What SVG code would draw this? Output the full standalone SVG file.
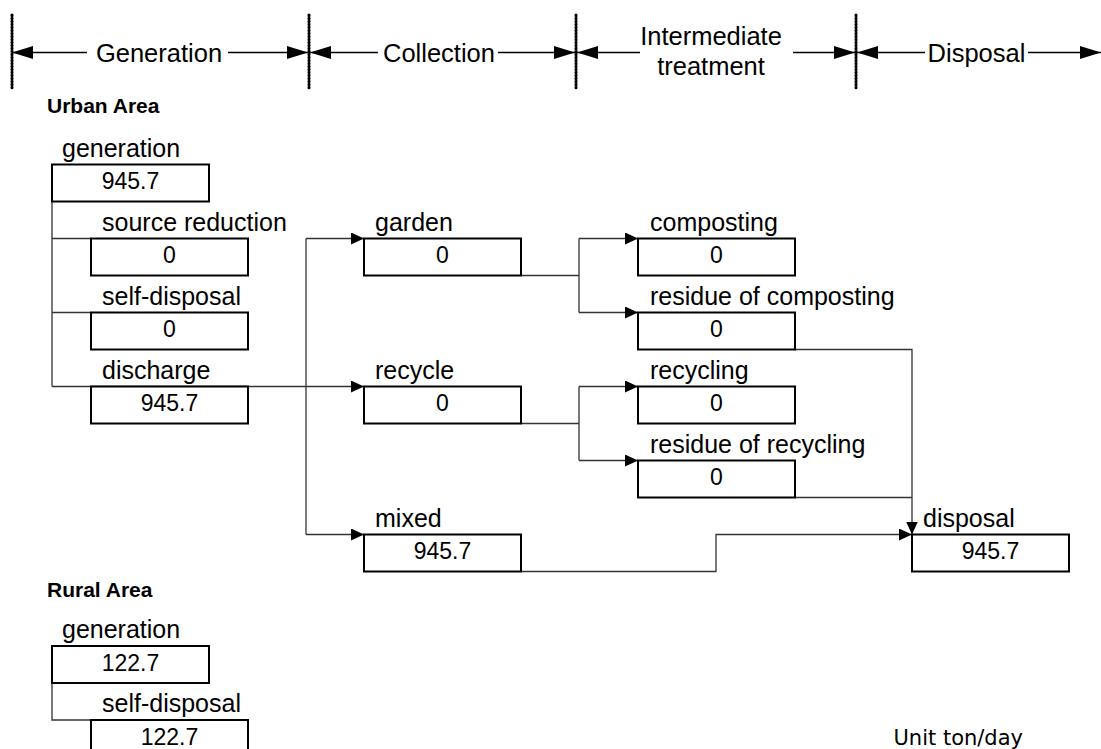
<svg xmlns="http://www.w3.org/2000/svg" width="1101" height="749" viewBox="0 0 1101 749">
<style>
.bg{fill:#fff}
.box{fill:#fff;stroke:#000;stroke-width:2}
.lbl{font-family:"Liberation Sans",Arial,sans-serif;font-size:25px;fill:#000}
.num{font-family:"Liberation Sans",Arial,sans-serif;font-size:23px;fill:#000;text-anchor:middle}
.hdr{font-family:"Liberation Sans",Arial,sans-serif;font-size:25.5px;fill:#000;text-anchor:middle}
.area{font-family:"Liberation Sans",Arial,sans-serif;font-size:21px;font-weight:bold;fill:#000}
.unit{font-family:"DejaVu Sans",Verdana,sans-serif;font-size:21px;fill:#000;text-anchor:end}
.con{fill:none;stroke:#333;stroke-width:1.3}
.arr{marker-end:url(#ah)}
.hl{fill:none;stroke:#000;stroke-width:1.3}
.div{stroke:#000;stroke-width:3;stroke-dasharray:0.8 2.2;stroke-linecap:round}
</style>
<defs>
<marker id="ah" markerUnits="userSpaceOnUse" markerWidth="14" markerHeight="13" refX="13" refY="6" orient="auto">
<path d="M0,0 L13,6 L0,12 z" fill="#000"/>
</marker>
<marker id="hh" markerUnits="userSpaceOnUse" markerWidth="22" markerHeight="14" refX="21" refY="6.5" orient="auto-start-reverse">
<path d="M0,0 L21,6.5 L0,13 z" fill="#000"/>
</marker>
</defs>
<rect class="bg" x="0" y="0" width="1101" height="749"/>

<g id="header">
<line class="div" x1="12" y1="15" x2="12" y2="89"/>
<line class="div" x1="309" y1="15" x2="309" y2="89"/>
<line class="div" x1="576" y1="15" x2="576" y2="89"/>
<line class="div" x1="856" y1="15" x2="856" y2="89"/>
<line class="hl" x1="12" y1="52.5" x2="87" y2="52.5" marker-start="url(#hh)"/>
<line class="hl" x1="228" y1="52.5" x2="308" y2="52.5" marker-end="url(#hh)"/>
<line class="hl" x1="310" y1="52.5" x2="378" y2="52.5" marker-start="url(#hh)"/>
<line class="hl" x1="498" y1="52.5" x2="575" y2="52.5" marker-end="url(#hh)"/>
<line class="hl" x1="577" y1="52.5" x2="640" y2="52.5" marker-start="url(#hh)"/>
<line class="hl" x1="793" y1="52.5" x2="855" y2="52.5" marker-end="url(#hh)"/>
<line class="hl" x1="857" y1="52.5" x2="925" y2="52.5" marker-start="url(#hh)"/>
<line class="hl" x1="1028" y1="52.5" x2="1101" y2="52.5" marker-end="url(#hh)"/>
<text class="hdr" x="159" y="61.5">Generation</text>
<text class="hdr" x="439" y="61.5">Collection</text>
<text class="hdr" x="711" y="45">Intermediate</text>
<text class="hdr" x="711" y="75">treatment</text>
<text class="hdr" x="976.5" y="61.5">Disposal</text>
</g>

<text class="area" x="47" y="113">Urban Area</text>
<text class="area" x="47" y="597">Rural Area</text>
<text class="unit" x="1023" y="745">Unit ton/day</text>

<g id="connectors">
<path class="con" d="M52,201.5 V386.5 M52,238.5 H91 M52,312.5 H91"/>
<path class="con arr" d="M52,386.5 H364"/>
<path class="con" d="M306,238.5 V534.5"/>
<path class="con arr" d="M306,238.5 H364"/>
<path class="con arr" d="M306,534.5 H364"/>
<path class="con" d="M521,275.5 H579 M579,238.5 V312.5"/>
<path class="con arr" d="M579,238.5 H638"/>
<path class="con arr" d="M579,312.5 H638"/>
<path class="con" d="M521,423.5 H579 M579,386.5 V460.5"/>
<path class="con arr" d="M579,386.5 H638"/>
<path class="con arr" d="M579,460.5 H638"/>
<path class="con arr" d="M795,349.5 H912 V534.5"/>
<path class="con" d="M795,497.5 H912"/>
<path class="con arr" d="M521,571.5 H716 V534.5 H912"/>
<path class="con" d="M52,683 V720 H91"/>
</g>

<g id="u-generation"><text class="lbl" x="62" y="157">generation</text><rect class="box" x="52" y="164.5" width="157" height="37"/><text class="num" x="130.5" y="189">945.7</text></g>
<g id="u-source-reduction"><text class="lbl" x="102" y="231">source reduction</text><rect class="box" x="91" y="238.5" width="157" height="37"/><text class="num" x="169.5" y="263">0</text></g>
<g id="u-self-disposal"><text class="lbl" x="102" y="305">self-disposal</text><rect class="box" x="91" y="312.5" width="157" height="37"/><text class="num" x="169.5" y="337">0</text></g>
<g id="u-discharge"><text class="lbl" x="102" y="379">discharge</text><rect class="box" x="91" y="386.5" width="157" height="37"/><text class="num" x="169.5" y="411">945.7</text></g>
<g id="garden"><text class="lbl" x="375" y="231">garden</text><rect class="box" x="364" y="238.5" width="157" height="37"/><text class="num" x="442.5" y="263">0</text></g>
<g id="recycle"><text class="lbl" x="375" y="379">recycle</text><rect class="box" x="364" y="386.5" width="157" height="37"/><text class="num" x="442.5" y="411">0</text></g>
<g id="mixed"><text class="lbl" x="375" y="527">mixed</text><rect class="box" x="364" y="534.5" width="157" height="37"/><text class="num" x="442.5" y="559">945.7</text></g>
<g id="composting"><text class="lbl" x="650" y="231">composting</text><rect class="box" x="638" y="238.5" width="157" height="37"/><text class="num" x="716.5" y="263">0</text></g>
<g id="residue-composting"><text class="lbl" x="650" y="305">residue of composting</text><rect class="box" x="638" y="312.5" width="157" height="37"/><text class="num" x="716.5" y="337">0</text></g>
<g id="recycling"><text class="lbl" x="650" y="379">recycling</text><rect class="box" x="638" y="386.5" width="157" height="37"/><text class="num" x="716.5" y="411">0</text></g>
<g id="residue-recycling"><text class="lbl" x="650" y="453">residue of recycling</text><rect class="box" x="638" y="460.5" width="157" height="37"/><text class="num" x="716.5" y="485">0</text></g>
<g id="disposal"><text class="lbl" x="923" y="527">disposal</text><rect class="box" x="912" y="534.5" width="157" height="37"/><text class="num" x="990.5" y="559">945.7</text></g>
<g id="r-generation"><text class="lbl" x="62" y="638">generation</text><rect class="box" x="52" y="646" width="157" height="37"/><text class="num" x="130.5" y="670.5">122.7</text></g>
<g id="r-self-disposal"><text class="lbl" x="102" y="712">self-disposal</text><rect class="box" x="91" y="720" width="157" height="37"/><text class="num" x="169.5" y="744.5">122.7</text></g>
</svg>
